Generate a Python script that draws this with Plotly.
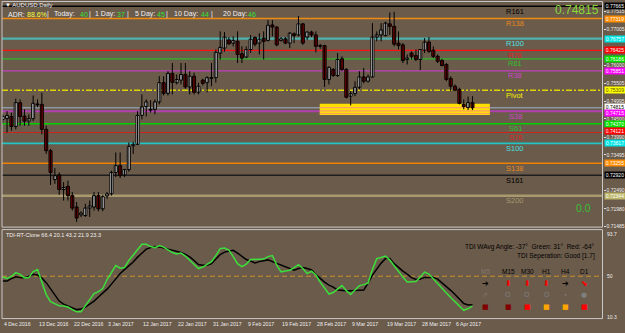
import plotly.graph_objects as go

# ---------------- data ----------------
open_ = [0.7449,0.7451,0.7457,0.7429,0.7496,0.7458,0.7444,0.7451,0.7492,0.7491,
         0.7421,0.7361,0.7280,0.7293,0.7252,0.7261,0.7235,0.7203,0.7181,0.7179,
         0.7200,0.7203,0.7235,0.7198,0.7234,0.7240,0.7300,0.7319,0.7293,0.7308,
         0.7375,0.7379,0.7460,0.7485,0.7477,0.7477,0.7498,0.7552,0.7522,0.7578,
         0.7552,0.7559,0.7575,0.7540,0.7570,0.7525,0.7559,0.7552,0.7564,0.7566,
         0.7635,0.7649,0.7672,0.7663,0.7668,0.7633,0.7624,0.7645,0.7679,0.7663,
         0.7677,0.7670,0.7714,0.7708,0.7670,0.7675,0.7663,0.7689,0.7686,0.7717,
         0.7680,0.7694,0.7686,0.7656,0.7656,0.7561,0.7589,0.7572,0.7619,0.7589,
         0.7514,0.7521,0.7539,0.7568,0.7556,0.7568,0.7680,0.7686,0.7684,0.7717,
         0.7710,0.7663,0.7658,0.7617,0.7635,0.7628,0.7617,0.7643,0.7666,0.7643,
         0.7626,0.7614,0.7603,0.7564,0.7542,0.7533,0.7491,0.7482,0.7496]
high = [0.7463,0.7472,0.7468,0.7507,0.7505,0.7477,0.7463,0.7516,0.7505,0.7524,
        0.7431,0.7366,0.7312,0.7300,0.7273,0.7277,0.7245,0.7217,0.7191,0.7212,
        0.7221,0.7245,0.7245,0.7237,0.7245,0.7305,0.7356,0.7356,0.7310,0.7384,
        0.7386,0.7472,0.7519,0.7505,0.7503,0.7505,0.7570,0.7570,0.7584,0.7607,
        0.7575,0.7607,0.7607,0.7584,0.7580,0.7552,0.7563,0.7570,0.7607,0.7645,
        0.7696,0.7694,0.7680,0.7682,0.7696,0.7654,0.7654,0.7686,0.7682,0.7691,
        0.7696,0.7728,0.7728,0.7711,0.7680,0.7680,0.7694,0.7693,0.7739,0.7719,
        0.7696,0.7698,0.7696,0.7661,0.7658,0.7598,0.7593,0.7635,0.7626,0.7593,
        0.7528,0.7556,0.7584,0.7593,0.7575,0.7719,0.7696,0.7719,0.7723,0.7749,
        0.7751,0.7696,0.7663,0.7631,0.7640,0.7645,0.7646,0.7677,0.7680,0.7654,
        0.7631,0.7619,0.7607,0.7570,0.7547,0.7538,0.7505,0.7513,0.7514]
low = [0.7438,0.7412,0.7417,0.7421,0.7431,0.7431,0.7431,0.7444,0.7483,0.7407,
       0.7352,0.7265,0.7268,0.7237,0.7221,0.7221,0.7193,0.7161,0.7175,0.7175,
       0.7175,0.7193,0.7191,0.7191,0.7226,0.7235,0.7287,0.7284,0.7287,0.7302,
       0.7352,0.7377,0.7449,0.7457,0.7468,0.7463,0.7491,0.7516,0.7516,0.7519,
       0.7547,0.7547,0.7535,0.7519,0.7519,0.7519,0.7544,0.7525,0.7542,0.7552,
       0.7617,0.7639,0.7658,0.7654,0.7607,0.7607,0.7621,0.7635,0.7654,0.7631,
       0.7617,0.7668,0.7682,0.7654,0.7668,0.7660,0.7649,0.7663,0.7682,0.7658,
       0.7672,0.7680,0.7637,0.7647,0.7540,0.7547,0.7568,0.7568,0.7584,0.7508,
       0.7488,0.7514,0.7533,0.7550,0.7552,0.7566,0.7668,0.7668,0.7682,0.7686,
       0.7654,0.7645,0.7607,0.7603,0.7617,0.7612,0.7587,0.7635,0.7635,0.7621,
       0.7607,0.7598,0.7556,0.7528,0.7528,0.7491,0.7477,0.7475,0.7475]
close = [0.7457,0.7460,0.7429,0.7496,0.7457,0.7444,0.7451,0.7494,0.7490,0.7421,
         0.7361,0.7300,0.7291,0.7252,0.7258,0.7235,0.7200,0.7172,0.7186,0.7200,
         0.7206,0.7235,0.7198,0.7232,0.7240,0.7300,0.7319,0.7291,0.7308,0.7373,
         0.7379,0.7460,0.7484,0.7498,0.7475,0.7498,0.7552,0.7522,0.7578,0.7553,
         0.7561,0.7575,0.7540,0.7570,0.7525,0.7542,0.7550,0.7566,0.7566,0.7637,
         0.7651,0.7680,0.7661,0.7670,0.7631,0.7621,0.7645,0.7674,0.7660,0.7674,
         0.7668,0.7713,0.7708,0.7658,0.7675,0.7663,0.7691,0.7684,0.7717,0.7663,
         0.7694,0.7686,0.7654,0.7654,0.7561,0.7595,0.7572,0.7617,0.7589,0.7511,
         0.7521,0.7539,0.7568,0.7556,0.7568,0.7680,0.7686,0.7700,0.7719,0.7710,
         0.7660,0.7656,0.7614,0.7621,0.7626,0.7617,0.7645,0.7666,0.7640,0.7626,
         0.7612,0.7600,0.7561,0.7542,0.7531,0.7494,0.7485,0.7496,0.74815]

tdi_green = [49.2,48.0,49.8,53.4,51.7,48.4,48.7,54.3,56.2,44.0,
             32.8,26.2,24.0,22.2,22.0,21.1,18.7,16.6,16.6,22.5,
             27.6,33.7,35.6,38.4,46.9,53.9,60.0,57.6,58.1,64.7,
             69.8,75.0,79.9,79.9,77.8,76.8,78.7,77.3,75.0,72.2,
             70.9,71.7,68.9,65.1,61.4,57.2,58.6,60.9,63.7,69.3,
             75.9,76.4,74.5,68.4,61.8,59.0,61.4,65.6,65.6,65.8,
             66.1,68.4,69.4,60.4,54.1,54.8,55.6,58.1,60.9,57.2,
             52.5,54.8,51.1,44.5,38.4,33.3,34.7,38.4,41.2,36.5,
             32.8,37.0,41.2,42.1,43.6,56.2,66.5,67.6,68.9,65.1,
             59.5,53.9,49.2,44.7,44.7,45.0,49.2,53.9,52.0,47.3,
             42.6,38.4,34.2,30.0,25.8,21.6,18.1,19.7,21.9]
tdi_signal = [45.6,45.6,47.8,49.4,48.9,48.4,50.1,51.8,51.1,48.3,
              44.0,38.4,32.3,26.7,23.9,22.0,20.1,18.7,19.2,21.1,
              23.9,26.7,30.5,34.2,37.9,42.6,47.8,52.5,56.2,59.5,
              63.3,67.9,72.1,75.4,76.8,77.8,77.5,76.6,75.4,74.4,
              73.5,72.3,70.4,68.2,64.7,60.9,60.3,60.3,61.8,66.1,
              70.3,72.6,73.5,74.3,71.7,68.4,65.6,64.2,62.5,63.7,
              64.8,65.3,63.7,62.2,60.9,59.0,57.2,55.7,57.2,58.1,
              57.2,55.9,51.5,47.8,44.5,41.7,39.8,37.0,36.5,36.4,
              36.3,36.5,36.7,37.0,43.6,51.1,56.7,62.3,66.5,66.5,
              61.8,58.1,54.8,52.0,48.7,46.9,47.3,48.9,49.2,48.9,
              47.3,44.0,40.8,36.8,32.8,28.6,24.4,23.0,23.3]

date_labels = ["4 Dec 2016", "13 Dec 2016", "22 Dec 2016", "3 Jan 2017", "12 Jan 2017",
               "22 Jan 2017", "31 Jan 2017", "9 Feb 2017", "19 Feb 2017", "28 Feb 2017",
               "9 Mar 2017", "19 Mar 2017", "28 Mar 2017", "6 Apr 2017"]
date_label_bars = [0, 8, 16, 24, 32, 40, 48, 56, 64, 72, 80, 88, 96, 104]

# visible right-axis ticks (0.76500 and 0.72990 sit under the level boxes)
price_ticks = [0.77515, 0.77005, 0.76000, 0.75505, 0.74995, 0.74500,
               0.73990, 0.73495, 0.72490, 0.71980, 0.71485]

level_names = ["R161", "R138", "R100", "R78", "R61", "R38", "Pivot",
               "S38", "S61", "S78", "S100", "S138", "S161", "S200"]
level_values = [0.77665, 0.77319, 0.76757, 0.76425, 0.76186, 0.75851, 0.75309,
                0.74715, 0.74370, 0.74121, 0.73817, 0.73255, 0.72920, 0.72344]
bid_price = 0.74815
zone_bars = [72.9, 112.0]
zone_prices = [0.74612, 0.74930]
zone_stripes = [0.74818, 0.74729, 0.74651]

adr_labels = ["ADR:", "Today:", "1 Day:", "5 Day:", "10 Day:", "20 Day:"]
adr_values = ["88.6%", "40", "37", "45", "44", "46"]
tdi_params = [66.4, 20.1, 43.2, 21.9, 23.3]
tdi_angle_text = "TDI WAvg Angle: -37°  Green: 31°  Red: -64°"
tdi_sep_text = "TDI Seperation: Good [1.7]"
tf_names = ["M5", "M15", "M30", "H1", "H4", "D1"]
tf_arrows = ["➔", "⬇", "⬇", "⬇", "➔", "⬊"]
tf_marks = ["⇗", "O", "O", "O", "•", "●"]
tf_squares = ["#800000", "#800000", "#FF0000", "#FFA500", "#FFA500", "#FF0000"]
ind_levels = [93.7, 50, 10.3]

# ---------------- styling ----------------
W, H = 625, 333
def X(px): return px / W
def Y(px): return 1 - px / H

BG = "#6B5B4B"
FONT = "Liberation Sans, Arial, sans-serif"
level_line_colors = ["#000000", "#EE8A10", "#4DB3AE", "#FF1010", "#2DB82D", "#C040C0", "#DED400",
                     "#B040B0", "#00D000", "#D02020", "#22C4C4", "#F08000", "#1E1E1E", "#A89A6E"]
level_label_colors = ["#000000", "#E8891B", "#50E0E0", "#E02020", "#30C030", "#CC44CC", "#F0F000",
                      "#CC44CC", "#30C030", "#E02020", "#40E0E0", "#E8891B", "#000000", "#A89A6E"]
level_widths = [1.5, 1.5, 2.2, 1.2, 1.2, 1.2, 1.5, 2, 1.5, 1, 1.8, 1.5, 1.5, 2.5]
box_bg = ["#000000", "#FF8C00", "#00E5E5", "#FF0000", "#00E000", "#FF00FF", "#FFFF00",
          "#FF00FF", "#00E000", "#FF0000", "#00E5E5", "#FF8C00", "#000000", "#BDB76B"]
box_fg = ["#FFFFFF", "#FFFFFF", "#FFFFFF", "#FFFFFF", "#FFFFFF", "#FFFFFF", "#555500",
          "#FFFFFF", "#FFFFFF", "#FFFFFF", "#FFFFFF", "#FFFFFF", "#FFFFFF", "#FFFFFF"]

n = len(close)
idx = list(range(n))
fig = go.Figure()

# wicks
wx, wy = [], []
for i in idx:
    wx += [i, i, None]
    wy += [low[i], high[i], None]
fig.add_trace(go.Scatter(x=wx, y=wy, mode="lines", line=dict(color="#000000", width=1),
                         hoverinfo="skip", showlegend=False))
# bodies
base = [min(o, c) for o, c in zip(open_, close)]
hgt = [max(abs(c - o), 0.00004) for o, c in zip(open_, close)]
cols = ["#FFFFFF" if c >= o else "#990000" for o, c in zip(open_, close)]
fig.add_trace(go.Bar(x=idx, y=hgt, base=base, width=0.7,
                     marker=dict(color=cols, line=dict(color="#000000", width=1)),
                     hoverinfo="skip", showlegend=False))

# indicator
fig.add_trace(go.Scatter(x=idx, y=tdi_signal, xaxis="x2", yaxis="y2", mode="lines",
                         line=dict(color="#000000", width=1.5), showlegend=False, hoverinfo="skip"))
fig.add_trace(go.Scatter(x=idx, y=tdi_green, xaxis="x2", yaxis="y2", mode="lines",
                         line=dict(color="#3BE03B", width=1.5), showlegend=False, hoverinfo="skip"))

shapes = []
for v, c, w, name in zip(level_values, level_line_colors, level_widths, level_names):
    shapes.append(dict(type="line", xref="paper", x0=X(2), x1=X(602.5), yref="y", y0=v, y1=v,
                       line=dict(color=c, width=w, dash="6px,2px,2px,2px" if name == "Pivot" else "solid"),
                       layer="below"))
shapes.append(dict(type="line", xref="paper", x0=X(2), x1=X(602.5), yref="y", y0=bid_price, y1=bid_price,
                   line=dict(color="#8C98A6", width=1.5), layer="below"))
shapes.append(dict(type="rect", xref="x", x0=zone_bars[0], x1=zone_bars[1], yref="y",
                   y0=zone_prices[0], y1=zone_prices[1], fillcolor="#FFE000",
                   line=dict(width=0), layer="below"))
for s in zone_stripes:
    shapes.append(dict(type="line", xref="x", x0=zone_bars[0], x1=zone_bars[1], yref="y", y0=s, y1=s,
                       line=dict(color="#FFA060", width=1.2), layer="below"))
shapes.append(dict(type="line", xref="paper", x0=X(2), x1=X(602.5), yref="y2", y0=50, y1=50,
                   line=dict(color="#C8902A", width=1, dash="5px,3px"), layer="below"))
for top, bot in [(1.5, 228.5), (231, 320.5)]:
    shapes.append(dict(type="rect", xref="paper", yref="paper", x0=X(2), x1=X(602.5), y0=Y(bot), y1=Y(top),
                       line=dict(color="#C8C8C8", width=1), fillcolor="rgba(0,0,0,0)", layer="above"))

ann = []
# level labels
for name, v, c in zip(level_names, level_values, level_label_colors):
    ann.append(dict(text=name, xref="paper", x=X(515), yref="y", y=v, yshift=-5, showarrow=False,
                    xanchor="center", yanchor="middle", font=dict(size=7.5, color=c, family=FONT)))
# right axis boxes
box_vals = level_values[:7] + [bid_price] + level_values[7:]
box_b = box_bg[:7] + ["#FFFFFF"] + box_bg[7:]
box_f = box_fg[:7] + ["#000000"] + box_fg[7:]
box_shift = [0] * 7 + [1] + [-2, 0, 1.5, 0, 0, 0, 0]
for v, b, f, sh in zip(box_vals, box_b, box_f, box_shift):
    ann.append(dict(text=f"{v:.5f}", xref="paper", x=X(603.5), yref="y", y=v, yshift=sh, showarrow=False,
                    xanchor="left", yanchor="middle", bgcolor=b, borderpad=0, width=20,
                    font=dict(size=5, color=f, family=FONT)))
# dates
for lab, b in zip(date_labels, date_label_bars):
    ann.append(dict(text=lab, xref="x", x=b - 0.15, yref="paper", y=Y(326), showarrow=False,
                    xanchor="left", yanchor="middle", font=dict(size=5.2, color="#EEEEEE", family=FONT)))
# title & header
ann.append(dict(text="▼ AUDUSD,Daily", xref="paper", x=X(3), yref="paper", y=Y(5.5), showarrow=False,
                xanchor="left", yanchor="middle", font=dict(size=6, color="#F4F4F4", family=FONT)))
sep_x = [48, 89.5, 128, 167, 212]
lab_x = [6, 52, 93, 133, 172, 221]
val_x = [24.5, 77.5, 114.5, 154.5, 199, 246]
for sx in sep_x:
    ann.append(dict(text="|", xref="paper", x=X(sx), yref="paper", y=Y(14.5), showarrow=False,
                    xanchor="center", yanchor="middle", font=dict(size=7, color="#F0F0F0", family=FONT)))
for lx, vx, lab, val, k in zip(lab_x, val_x, adr_labels, adr_values, range(6)):
    ann.append(dict(text=lab, xref="paper", x=X(lx), yref="paper", y=Y(14.5), showarrow=False,
                    xanchor="left", yanchor="middle", font=dict(size=7, color="#F0F0F0", family=FONT)))
    ann.append(dict(text=val, xref="paper", x=X(vx), yref="paper", y=Y(14.5), showarrow=False,
                    xanchor="left", yanchor="middle",
                    font=dict(size=7, color="#FFFF40" if k == 0 else "#30E030", family=FONT)))
ann.append(dict(text=f"{bid_price:.5f}", xref="paper", x=X(601), yref="paper", y=Y(10), showarrow=False,
                xanchor="right", yanchor="middle", font=dict(size=12, color="#88D838", family=FONT)))
ann.append(dict(text="0.0", xref="paper", x=X(583), yref="paper", y=Y(209.5), showarrow=False,
                xanchor="center", yanchor="middle", font=dict(size=10.5, color="#36C036", family=FONT)))
# indicator texts
ann.append(dict(text="TDI-RT-Clone " + " ".join(f"{p:.1f}" for p in tdi_params), xref="paper", x=X(4),
                yref="paper", y=Y(236.3), showarrow=False, xanchor="left", yanchor="middle",
                font=dict(size=5.5, color="#F0F0F0", family=FONT)))
ann.append(dict(text=tdi_angle_text, xref="paper", x=X(597), yref="paper", y=Y(248.3), showarrow=False,
                xanchor="right", yanchor="middle", font=dict(size=6.5, color="#000000", family=FONT)))
ann.append(dict(text=tdi_sep_text, xref="paper", x=X(597), yref="paper", y=Y(257.3), showarrow=False,
                xanchor="right", yanchor="middle", font=dict(size=6.5, color="#000000", family=FONT)))
tf_x = [485, 508.3, 527.3, 546.7, 565.7, 584.3]
for k, (tx, nm, ar, mk, sq) in enumerate(zip(tf_x, tf_names, tf_arrows, tf_marks, tf_squares)):
    ann.append(dict(text=nm, xref="paper", x=X(tx), yref="paper", y=Y(272.7), showarrow=False,
                    xanchor="center", yanchor="middle",
                    font=dict(size=6.5, color="#85786A" if k == 0 else "#000000", family=FONT)))
    ann.append(dict(text=ar, xref="paper", x=X(tx), yref="paper", y=Y(285), showarrow=False,
                    xanchor="center", yanchor="middle",
                    font=dict(size=8, color="#000000" if ar == "➔" else "#FF0000", family="DejaVu Sans")))
    ann.append(dict(text=mk, xref="paper", x=X(tx), yref="paper", y=Y(296.7), showarrow=False,
                    xanchor="center", yanchor="middle",
                    font=dict(size=7 if mk != "•" else 6, color="#85786A" if k == 0 else "#7E7E7E",
                              family="DejaVu Sans")))
    ann.append(dict(text="■", xref="paper", x=X(tx), yref="paper", y=Y(309.3), showarrow=False,
                    xanchor="center", yanchor="middle", font=dict(size=7, color=sq, family="DejaVu Sans")))
for v, py in zip(ind_levels, [235, 278, 318.5]):
    ann.append(dict(text=f"{v:g}", xref="paper", x=X(604.5), yref="paper", y=Y(py), showarrow=False,
                    xanchor="left", yanchor="middle", font=dict(size=5, color="#EEEEEE", family=FONT)))

xr = [-0.161, 137.9]
fig.update_layout(
    width=W, height=H, margin=dict(l=0, r=0, t=0, b=0),
    paper_bgcolor=BG, plot_bgcolor=BG, showlegend=False, barmode="overlay",
    xaxis=dict(domain=[X(2), X(602.5)], range=xr, visible=False, anchor="y"),
    yaxis=dict(domain=[Y(228.5), Y(1.5)], range=[0.71465, 0.77798], side="right", anchor="x",
               tickvals=price_ticks, ticktext=[f"{v:.5f}" for v in price_ticks],
               ticks="outside", ticklen=2, tickcolor="#DDDDDD",
               tickfont=dict(size=5, color="#EEEEEE", family=FONT),
               showgrid=False, zeroline=False, showline=False, fixedrange=True),
    xaxis2=dict(domain=[X(2), X(602.5)], range=xr, visible=False, anchor="y2"),
    yaxis2=dict(domain=[Y(320.5), Y(231)], range=[10.3, 93.7], visible=False, anchor="x2"),
    shapes=shapes, annotations=ann,
)
fig.write_html("out.html")
